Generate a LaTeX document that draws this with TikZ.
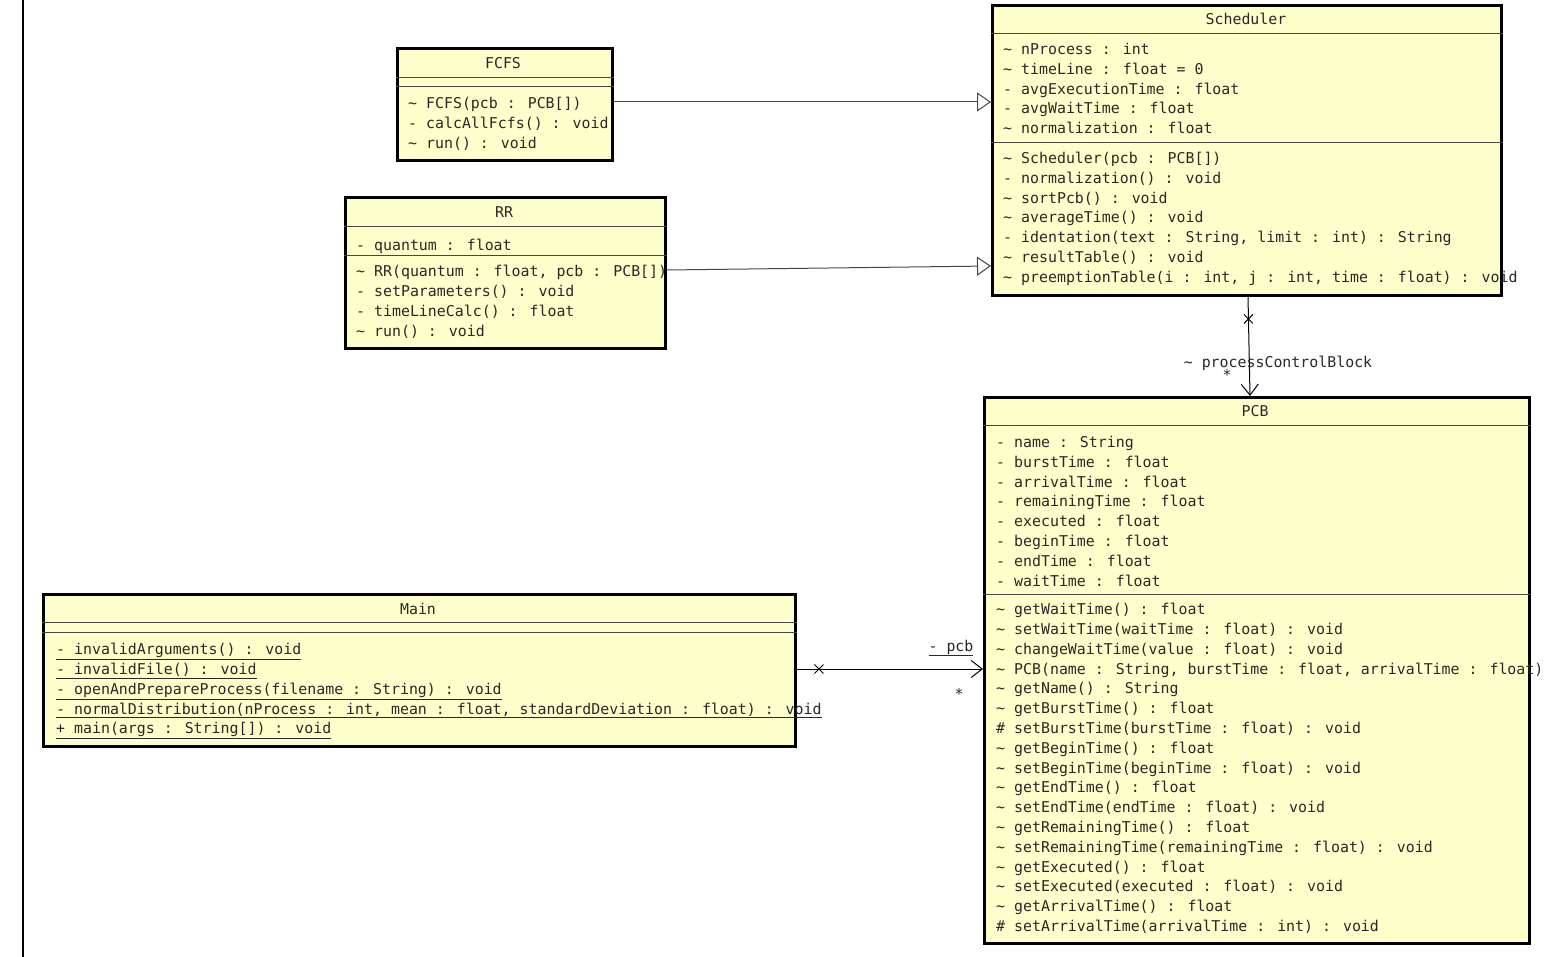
\documentclass[tikz,border=0pt]{standalone}
\usepackage{fontspec}
\usetikzlibrary{arrows.meta,shapes.misc}
\newfontfamily\umlfont{DejaVu Sans Mono}
\newcommand\umlpkg{\textasciitilde}
\definecolor{classfill}{RGB}{255,255,204}
\definecolor{sepgray}{RGB}{70,70,70}
\definecolor{txtgray}{RGB}{40,40,40}

\begin{document}
\begin{tikzpicture}[x=1pt, y=-1pt,
    classbox/.style={draw=black, line width=2.6pt, fill=classfill, inner sep=0pt, anchor=north west},
    ctitle/.style={font=\umlfont\fontsize{14.9}{19.8}\selectfont, text=txtgray, inner sep=0pt},
    members/.style={font=\umlfont\fontsize{14.9}{19.8}\selectfont, text=txtgray, align=left,
        inner sep=0pt, anchor=north west, execute at begin node=\strut},
    sepline/.style={draw=sepgray, line width=0.9pt},
    inherit/.style={draw=sepgray, line width=1pt, -{Triangle[open, length=14pt, width=19pt]}},
    assoc/.style={draw=black, line width=1pt, -{Straight Barb[length=11pt, width=17pt]}},
    crossmark/.style={cross out, draw=black, line width=1pt, minimum size=8pt, inner sep=0pt},
    endlabel/.style={font=\umlfont\fontsize{14.9}{19.8}\selectfont, text=txtgray, inner sep=0pt}]

    \useasboundingbox (0,0) rectangle (1547,957);
    \draw[line width=1.2pt] (23,0) -- (23,957);

    % classe Scheduler
    \node[classbox, minimum width=509pt, minimum height=290pt] (sched) at (991,4) {};
    \draw[sepline] (sched.west |- 0,33) -- (sched.east |- 0,33);
    \draw[sepline] (sched.west |- 0,142) -- (sched.east |- 0,142);
    \node[ctitle] (schedName) at (1246,19) {Scheduler};
    \node[members] (schedAttr) at (1003,43) {\umlpkg{} nProcess : int\\
        \umlpkg{} timeLine : float = 0\\
        - avgExecutionTime : float\\
        - avgWaitTime : float\\
        \umlpkg{} normalization : float};
    \node[members] (schedOps) at (1003,152) {\umlpkg{} Scheduler(pcb : PCB[])\\
        - normalization() : void\\
        \umlpkg{} sortPcb() : void\\
        \umlpkg{} averageTime() : void\\
        - identation(text : String, limit : int) : String\\
        \umlpkg{} resultTable() : void\\
        \umlpkg{} preemptionTable(i : int, j : int, time : float) : void};

    % classe FCFS
    \node[classbox, minimum width=215pt, minimum height=112pt] (fcfs) at (396,47) {};
    \draw[sepline] (fcfs.west |- 0,77) -- (fcfs.east |- 0,77);
    \draw[sepline] (fcfs.west |- 0,86) -- (fcfs.east |- 0,86);
    \node[ctitle] (fcfsName) at (503,63) {FCFS};
    \node[members] (fcfsOps) at (408,97) {\umlpkg{} FCFS(pcb : PCB[])\\
        - calcAllFcfs() : void\\
        \umlpkg{} run() : void};

    % classe RR
    \node[classbox, minimum width=320pt, minimum height=151pt] (rr) at (344,196) {};
    \draw[sepline] (rr.west |- 0,226) -- (rr.east |- 0,226);
    \draw[sepline] (rr.west |- 0,255) -- (rr.east |- 0,255);
    \node[ctitle] (rrName) at (504,212) {RR};
    \node[members] (rrAttr) at (356,236) {- quantum : float};
    \node[members] (rrOps) at (356,265) {\umlpkg{} RR(quantum : float, pcb : PCB[])\\
        - setParameters() : void\\
        - timeLineCalc() : float\\
        \umlpkg{} run() : void};

    % classe PCB
    \node[classbox, minimum width=545pt, minimum height=546pt] (pcb) at (983,396) {};
    \draw[sepline] (pcb.west |- 0,425) -- (pcb.east |- 0,425);
    \draw[sepline] (pcb.west |- 0,594) -- (pcb.east |- 0,594);
    \node[ctitle] (pcbName) at (1255,411) {PCB};
    \node[members] (pcbAttr) at (996,436) {- name : String\\
        - burstTime : float\\
        - arrivalTime : float\\
        - remainingTime : float\\
        - executed : float\\
        - beginTime : float\\
        - endTime : float\\
        - waitTime : float};
    \node[members] (pcbOps) at (996,603) {\umlpkg{} getWaitTime() : float\\
        \umlpkg{} setWaitTime(waitTime : float) : void\\
        \umlpkg{} changeWaitTime(value : float) : void\\
        \umlpkg{} PCB(name : String, burstTime : float, arrivalTime : float)\\
        \umlpkg{} getName() : String\\
        \umlpkg{} getBurstTime() : float\\
        \# setBurstTime(burstTime : float) : void\\
        \umlpkg{} getBeginTime() : float\\
        \umlpkg{} setBeginTime(beginTime : float) : void\\
        \umlpkg{} getEndTime() : float\\
        \umlpkg{} setEndTime(endTime : float) : void\\
        \umlpkg{} getRemainingTime() : float\\
        \umlpkg{} setRemainingTime(remainingTime : float) : void\\
        \umlpkg{} getExecuted() : float\\
        \umlpkg{} setExecuted(executed : float) : void\\
        \umlpkg{} getArrivalTime() : float\\
        \# setArrivalTime(arrivalTime : int) : void};

    % classe Main
    \node[classbox, minimum width=752pt, minimum height=152pt] (main) at (42,593) {};
    \draw[sepline] (main.west |- 0,622) -- (main.east |- 0,622);
    \draw[sepline] (main.west |- 0,632) -- (main.east |- 0,632);
    \node[ctitle] (mainName) at (418,609) {Main};
    \node[members] (mainOps) at (56,643) {\underline{- invalidArguments() : void}\\
        \underline{- invalidFile() : void}\\
        \underline{- openAndPrepareProcess(filename : String) : void}\\
        \underline{- normalDistribution(nProcess : int, mean : float, standardDeviation : float) : void}\\
        \underline{+ main(args : String[]) : void}};

    % heritage
    \draw[inherit] (fcfs.east |- 0,102) -- (sched.west |- 0,102);
    \draw[inherit] (rr.east |- 0,270) -- (sched.west |- 0,266);

    % associations
    \draw[assoc] (sched.south -| 1248,0) -- node[pos=.225, crossmark] (schedCross) {} (pcb.north -| 1250,0);
    \node[endlabel] (pcbRoleA) at (1278,363) {\umlpkg{} processControlBlock};
    \node[endlabel] (pcbMultA) at (1227,375) {*};
    \draw[assoc] (main.east |- 0,669) -- node[pos=.12, crossmark] (mainCross) {} (pcb.west |- 0,669);
    \node[endlabel] (pcbRoleB) at (951,648) {\underline{- pcb}};
    \node[endlabel] (pcbMultB) at (959,694) {*};

\end{tikzpicture}
\end{document}
